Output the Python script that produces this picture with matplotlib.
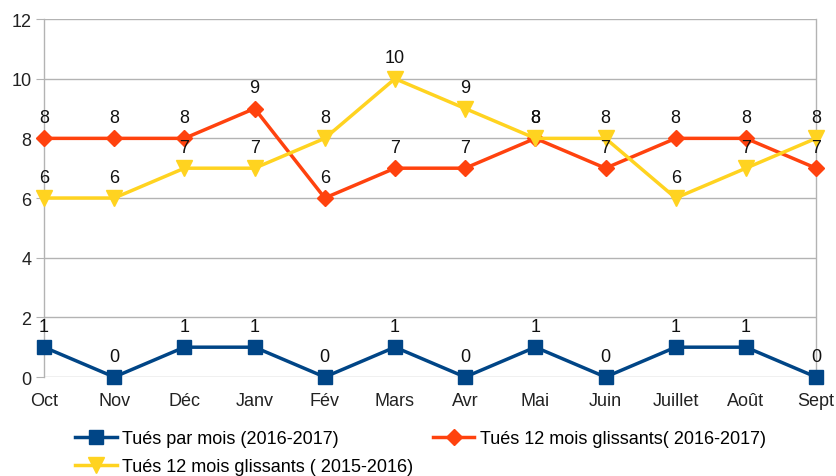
import matplotlib
matplotlib.use('Agg')
import matplotlib.pyplot as plt
import numpy as np

plt.rcParams['font.family'] = ['Liberation Sans', 'DejaVu Sans']

months = ['Oct', 'Nov', 'Déc', 'Janv', 'Fév', 'Mars', 'Avr', 'Mai', 'Juin', 'Juillet', 'Août', 'Sept']
tues_mois = [1, 0, 1, 1, 0, 1, 0, 1, 0, 1, 1, 0]
glissants_1617 = [8, 8, 8, 9, 6, 7, 7, 8, 7, 8, 8, 7]
glissants_1516 = [6, 6, 7, 7, 8, 10, 9, 8, 8, 6, 7, 8]

labels = ['Tués par mois (2016-2017)',
          'Tués 12 mois glissants( 2016-2017)',
          'Tués 12 mois glissants ( 2015-2016)']
colors = ['#004586', '#ff420e', '#ffd320']

fig = plt.figure(figsize=(8.37, 4.77), dpi=100)
ax = fig.add_axes([0.0526, 0.2075, 0.9224, 0.7505])

x = np.arange(len(months))
grid_c = '#b3b3b3'
for y in range(0, 13, 2):
    ax.axhline(y, color=grid_c, lw=1, zorder=0)

series = [
    (tues_mois, 's', 10),
    (glissants_1617, 'D', 8),
    (glissants_1516, 'v', 11),
]
handles = []
for (vals, mk, ms), lab, c in zip(series, labels, colors):
    h, = ax.plot(x, vals, color=c, lw=2.5, marker=mk, markersize=ms,
                 label=lab, zorder=3, clip_on=False)
    handles.append(h)
    for xi, v in zip(x, vals):
        ax.annotate(str(v), (xi, v), xytext=(0, 9), textcoords='offset points',
                    ha='center', va='bottom', fontsize=13, color='#111111', zorder=5)

ax.set_xlim(0, len(months) - 1)
ax.set_ylim(0, 12)
ax.set_yticks(range(0, 13, 2))
ax.set_xticks(x)
ax.set_xticklabels(months)
ax.tick_params(axis='y', length=6, color=grid_c, labelsize=13, pad=3, labelcolor='#222222')
ax.tick_params(axis='x', length=0, labelsize=13, pad=11, labelcolor='#222222')
for s in ['top', 'bottom']:
    ax.spines[s].set_visible(False)
for s in ['left', 'right']:
    ax.spines[s].set_color(grid_c)
    ax.spines[s].set_linewidth(1)

fig.legend([handles[0], handles[2], handles[1]],
           [labels[0], labels[2], labels[1]],
           ncol=2, loc='upper left', bbox_to_anchor=(0.0896, 0.096),
           frameon=False, fontsize=13, handlelength=2.3, handletextpad=0.3,
           columnspacing=1.1, labelspacing=0.62, borderpad=0, borderaxespad=0)

fig.savefig('out.png', dpi=100)
